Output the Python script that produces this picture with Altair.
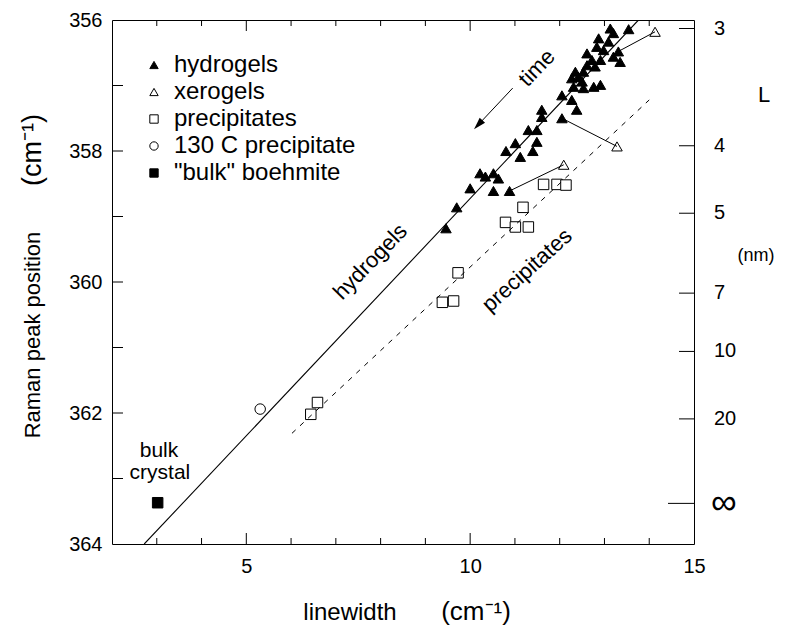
import altair as alt
import pandas as pd

FONT = "Liberation Sans"

# ---------------- data ----------------
series_names = ["hydrogels", "xerogels", "precipitates", "130 C precipitate", "\"bulk\" boehmite"]
series_shapes = ["triangle-up", "triangle-up", "square", "circle", "square"]
series_fills = ["black", "white", "white", "white", "black"]
series_strokes = ["black", "black", "black", "black", "black"]

hyd_x = [9.46, 9.70, 10.00, 10.22, 10.34, 10.52, 10.63, 10.52, 10.88, 10.80, 11.12, 11.40,
         11.01, 11.30, 11.49, 11.49, 11.60, 11.60, 12.05, 12.05, 12.27, 12.38, 12.31, 12.53,
         12.76, 12.91, 12.27, 12.50, 12.42, 12.35, 12.53, 12.61, 12.79, 12.72, 12.91, 12.61,
         13.20, 13.35, 13.31, 12.98, 12.83, 13.09, 12.87, 13.13, 13.20, 13.54]
hyd_y = [359.18, 358.86, 358.57, 358.34, 358.39, 358.34, 358.42, 358.61, 358.61, 358.00, 358.09, 358.00,
         357.88, 357.68, 357.68, 357.86, 357.37, 357.48, 357.50, 357.15, 357.22, 357.37, 357.02, 357.04,
         357.02, 356.99, 356.89, 356.94, 356.87, 356.79, 356.79, 356.69, 356.71, 356.61, 356.61, 356.51,
         356.56, 356.64, 356.48, 356.46, 356.41, 356.33, 356.28, 356.13, 356.20, 356.14]

xer_x = [14.13, 13.28, 12.09]
xer_y = [356.18, 357.93, 358.21]

pre_x = [11.64, 11.94, 12.14, 11.18, 10.79, 11.01, 11.30, 9.73, 9.38, 9.63, 6.59, 6.44]
pre_y = [358.51, 358.51, 358.52, 358.86, 359.09, 359.16, 359.16, 359.86, 360.31, 360.29, 361.84, 362.02]

c130_x = [5.31]
c130_y = [361.94]

bulk_x = [3.02]
bulk_y = [363.37]

# hydrogel -> xerogel connections
conn_x1 = [13.31, 12.05, 10.88]
conn_y1 = [356.48, 357.50, 358.61]
conn_x2 = [14.13, 13.28, 12.09]
conn_y2 = [356.18, 357.93, 358.21]

# fitted lines
hline_x = [2.72, 13.76]
hline_y = [364.0, 356.0]
pline_x = [6.02, 14.0]
pline_y = [362.31, 357.22]

# "time" arrow
arrow_x = [10.95, 10.18]
arrow_y = [357.04, 357.60]
arrowhead_x = [10.18]
arrowhead_y = [357.60]

# axis ticks / labels
x_major = [5, 10]
x_minor = [3, 4, 6, 7, 8, 9, 11, 12, 13, 14]
x_labels = [5, 10, 15]
y_ticks = [357, 358, 359, 360, 361, 362, 363]
y_labels = [356, 358, 360, 362, 364]
L_pos = [356.13, 357.92, 358.95, 360.17, 361.06, 362.09]
L_text = ["3", "4", "5", "7", "10", "20"]
Linf_pos = [363.38]
Linf_text = ["\u221e"]

# annotations
ann_time = ("time", 11.49, 356.73)
ann_hyd = ("hydrogels", 7.77, 359.69)
ann_pre = ("precipitates", 11.27, 359.82)
ann_bulk_t = ["bulk", "crystal"]
ann_bulk_x = [3.05, 3.07]
ann_bulk_y = [362.58, 362.92]

x_title_main = "linewidth"
y_title_main = "Raman peak position"
unit_title = "(cm\u207b\u00b9)"

# ---------------- build ----------------
W, H = 582, 524
xsc = alt.Scale(domain=[2, 15], nice=False, zero=False)
ysc = alt.Scale(domain=[356, 364], nice=False, zero=False, reverse=True)

AX = alt.Axis(values=x_labels, ticks=False, domain=False, grid=False, labelFlush=False,
              labelFontSize=20, labelPadding=12, labelColor="black", labelFont=FONT, title=None)
AY = alt.Axis(values=y_labels, ticks=False, domain=False, grid=False, labelFlush=False,
              labelFontSize=20, labelPadding=10, labelColor="black", labelFont=FONT, title=None)

rows = []
for name, xs, ys in [(series_names[0], hyd_x, hyd_y), (series_names[1], xer_x, xer_y),
                     (series_names[2], pre_x, pre_y), (series_names[3], c130_x, c130_y),
                     (series_names[4], bulk_x, bulk_y)]:
    for a, b in zip(xs, ys):
        rows.append({"series": name, "lw": a, "pos": b})
pts = pd.DataFrame(rows)

legend = alt.Legend(title=None, orient="none", legendX=30, legendY=33, labelFontSize=24,
                    labelFont=FONT, labelColor="black", symbolSize=70, symbolStrokeWidth=1,
                    labelOffset=8, rowPadding=3, padding=0, labelLimit=0)

def X(field="lw"):
    return alt.X(f"{field}:Q", scale=xsc, axis=AX)

def Y(field="pos"):
    return alt.Y(f"{field}:Q", scale=ysc, axis=AY)

points = alt.Chart(pts).mark_point(filled=True, size=110, strokeWidth=1, opacity=1).encode(
    x=X(), y=Y(),
    shape=alt.Shape("series:N", scale=alt.Scale(domain=series_names, range=series_shapes), legend=legend),
    fill=alt.Fill("series:N", scale=alt.Scale(domain=series_names, range=series_fills), legend=legend),
    stroke=alt.Stroke("series:N", scale=alt.Scale(domain=series_names, range=series_strokes), legend=legend),
)

hline = alt.Chart(pd.DataFrame({"lw": hline_x, "pos": hline_y})).mark_line(
    color="black", strokeWidth=1.1, clip=True).encode(x=X(), y=Y())
pline = alt.Chart(pd.DataFrame({"lw": pline_x, "pos": pline_y})).mark_line(
    color="black", strokeWidth=1, strokeDash=[5, 6], clip=True).encode(x=X(), y=Y())

conn = alt.Chart(pd.DataFrame({"lw": conn_x1, "pos": conn_y1, "lw2": conn_x2, "pos2": conn_y2})).mark_rule(
    color="black", strokeWidth=1).encode(x=X(), y=Y(), x2="lw2:Q", y2="pos2:Q")

arrow = alt.Chart(pd.DataFrame({"lw": arrow_x, "pos": arrow_y})).mark_line(
    color="black", strokeWidth=1).encode(x=X(), y=Y())
arrowhead = alt.Chart(pd.DataFrame({"lw": arrowhead_x, "pos": arrowhead_y})).mark_point(
    shape="M0,-1L0.6,1L-0.6,1Z", filled=True, color="black", size=150, angle=223, opacity=1).encode(x=X(), y=Y())

# inward ticks
left_ticks = alt.Chart(pd.DataFrame({"pos": y_ticks})).mark_rule(color="black", strokeWidth=1).encode(
    y=Y(), x=alt.value(0), x2=alt.value(11))
bot_major = alt.Chart(pd.DataFrame({"lw": x_major})).mark_rule(color="black", strokeWidth=1).encode(
    x=X(), y=alt.value(H), y2=alt.value(H - 11))
bot_minor = alt.Chart(pd.DataFrame({"lw": x_minor})).mark_rule(color="black", strokeWidth=1).encode(
    x=X(), y=alt.value(H), y2=alt.value(H - 6))
top_major = alt.Chart(pd.DataFrame({"lw": x_major})).mark_rule(color="black", strokeWidth=1).encode(
    x=X(), y=alt.value(0), y2=alt.value(11))
top_minor = alt.Chart(pd.DataFrame({"lw": x_minor})).mark_rule(color="black", strokeWidth=1).encode(
    x=X(), y=alt.value(0), y2=alt.value(6))
right_ticks = alt.Chart(pd.DataFrame({"pos": L_pos})).mark_rule(color="black", strokeWidth=1).encode(
    y=Y(), x=alt.value(W), x2=alt.value(W - 15))
right_inf_tick = alt.Chart(pd.DataFrame({"pos": Linf_pos})).mark_rule(color="black", strokeWidth=1).encode(
    y=Y(), x=alt.value(W), x2=alt.value(W - 26))

right_labels = alt.Chart(pd.DataFrame({"pos": L_pos, "t": L_text})).mark_text(
    align="left", baseline="middle", fontSize=20, font=FONT, color="black").encode(
    y=Y(), x=alt.value(W + 20), text="t:N")
right_inf = alt.Chart(pd.DataFrame({"pos": Linf_pos, "t": Linf_text})).mark_text(
    align="left", baseline="middle", fontSize=36, font=FONT, color="black").encode(
    y=Y(), x=alt.value(W + 17), text="t:N")

def fixed_text(t, px, py, size, angle=0):
    return alt.Chart(pd.DataFrame({"t": [t]})).mark_text(
        align="center", baseline="middle", fontSize=size, font=FONT, color="black", angle=angle).encode(
        x=alt.value(px), y=alt.value(py), text="t:N")

L_title = fixed_text("L", W + 70, 75, 22)
nm_title = fixed_text("(nm)", W + 62, 236, 18)
xt_main = fixed_text(x_title_main, 238, H + 69, 24)
xt_unit = fixed_text(unit_title, 364, H + 68, 26)
yt_main = fixed_text(y_title_main, -79, 315, 22, angle=270)
yt_unit = fixed_text(unit_title, -79, 130, 27, angle=270)

def rot_text(item, angle):
    t, a, b = item
    return alt.Chart(pd.DataFrame({"lw": [a], "pos": [b], "t": [t]})).mark_text(
        align="center", baseline="middle", fontSize=22, font=FONT, color="black", angle=angle).encode(
        x=X(), y=Y(), text="t:N")

t_time = rot_text(ann_time, 314)
t_hyd = rot_text(ann_hyd, 314)
t_pre = rot_text(ann_pre, 318)

t_bulk = alt.Chart(pd.DataFrame({"lw": ann_bulk_x, "pos": ann_bulk_y, "t": ann_bulk_t})).mark_text(
    align="center", baseline="middle", fontSize=21, font=FONT, color="black").encode(
    x=X(), y=Y(), text="t:N")

chart = alt.layer(
    points, hline, pline, conn, arrow, arrowhead,
    left_ticks, bot_major, bot_minor, top_major, top_minor, right_ticks, right_inf_tick,
    right_labels, right_inf, L_title, nm_title, xt_main, xt_unit, yt_main, yt_unit,
    t_time, t_hyd, t_pre, t_bulk,
).properties(
    width=W, height=H,
    autosize=alt.AutoSizeParams(type="none"),
    padding={"left": 112, "top": 20, "right": 92, "bottom": 81},
    background="white",
).configure_view(stroke="black", strokeWidth=1)

chart.save("out.html", embed_options={"renderer": "svg", "actions": False})
